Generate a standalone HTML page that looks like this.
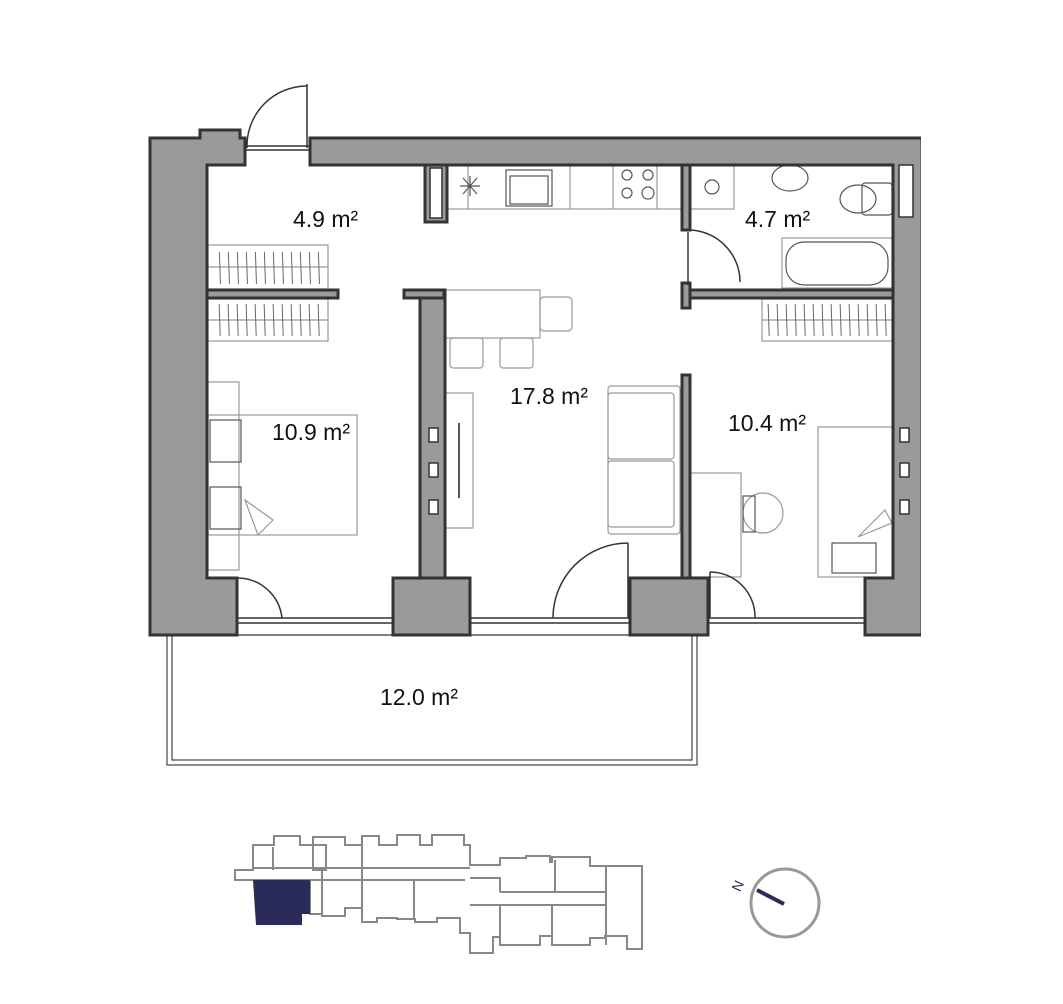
<!DOCTYPE html>
<html><head><meta charset="utf-8"><style>
html,body{margin:0;padding:0;background:#fff;width:1063px;height:1004px;overflow:hidden}
text{font-family:"Liberation Sans",sans-serif;fill:#111}
</style></head><body>
<svg width="1063" height="1004" viewBox="0 0 1063 1004" xmlns="http://www.w3.org/2000/svg">
<defs>
<pattern id="hang" x="0" y="0" width="9" height="60" patternUnits="userSpaceOnUse">
<line x1="3" y1="0" x2="5" y2="60" stroke="#666" stroke-width="1"/>
</pattern>
</defs>
<g fill="none" stroke="#999" stroke-width="1.2">
<!-- balcony -->
<rect x="167" y="635" width="530" height="130" stroke="#444"/>
<rect x="172" y="635" width="520" height="125" stroke="#444"/>
<!-- wardrobes -->
<rect x="208" y="245" width="120" height="44"/><line x1="208" y1="267" x2="328" y2="267"/>
<rect x="212" y="252" width="112" height="32" fill="url(#hang)" stroke="none"/>
<rect x="208" y="299" width="120" height="42"/><line x1="208" y1="320" x2="328" y2="320"/>
<rect x="212" y="304" width="112" height="32" fill="url(#hang)" stroke="none"/>
<rect x="762" y="299" width="130" height="42"/><line x1="762" y1="320" x2="892" y2="320"/>
<rect x="766" y="304" width="122" height="32" fill="url(#hang)" stroke="none"/>
<!-- kitchen -->
<rect x="447" y="165" width="235" height="44"/>
<line x1="468" y1="165" x2="468" y2="209"/><line x1="570" y1="165" x2="570" y2="209"/><line x1="613" y1="165" x2="613" y2="209"/><line x1="657" y1="165" x2="657" y2="209"/>
<rect x="506" y="170" width="46" height="36" stroke="#555"/><rect x="510" y="176" width="38" height="28" stroke="#555"/>
<circle cx="627" cy="175" r="5" stroke="#555"/><circle cx="648" cy="175" r="5" stroke="#555"/><circle cx="627" cy="193" r="5" stroke="#555"/><circle cx="648" cy="193" r="6" stroke="#555"/>
<path d="M463 178 L477 194 M477 178 L463 194 M470 176 V196 M460 186 H480" stroke="#555"/>
<!-- dining -->
<rect x="445" y="290" width="95" height="48"/><rect x="540" y="297" width="32" height="34" rx="4"/>
<rect x="450" y="338" width="33" height="30" rx="3"/><rect x="500" y="338" width="33" height="30" rx="3"/>
<!-- TV -->
<rect x="445" y="393" width="28" height="135"/>
<line x1="459" y1="423" x2="459" y2="498" stroke="#555" stroke-width="2"/>
<!-- sofa -->
<rect x="608" y="386" width="72" height="148" rx="3"/>
<rect x="608" y="393" width="66" height="66" rx="3"/><rect x="608" y="461" width="66" height="66" rx="3"/>
<!-- bedroom left -->
<rect x="208" y="382" width="31" height="188"/><rect x="208" y="415" width="149" height="120"/>
<rect x="210" y="420" width="31" height="42" stroke="#555"/><rect x="210" y="487" width="31" height="42" stroke="#555"/>
<path d="M245 500 L273 520 L258 535 Z"/>
<!-- bedroom right -->
<rect x="690" y="473" width="51" height="104"/><rect x="818" y="427" width="75" height="150"/>
<rect x="832" y="543" width="44" height="30" stroke="#555"/><path d="M858 537 L885 510 L892 523 Z"/>
<circle cx="763" cy="513" r="20"/><rect x="743" y="496" width="12" height="36" stroke="#555"/>
<!-- bath -->
<rect x="690" y="165" width="44" height="44"/><circle cx="712" cy="187" r="7" stroke="#555"/>
<ellipse cx="790" cy="178" rx="18" ry="13" stroke="#555"/>
<rect x="862" y="183" width="30" height="32" rx="3" stroke="#555"/><ellipse cx="858" cy="199" rx="18" ry="14" stroke="#555"/>
<rect x="782" y="238" width="110" height="50"/><rect x="786" y="242" width="102" height="43" rx="18" stroke="#555"/>
</g>
<!-- walls -->
<g fill="#9a9a9a" stroke="#333" stroke-width="3">
<path d="M150 138 H200 V130 H240 V138 H245 V165 H207 V578 H237 V635 H150 Z"/>
<path d="M310 138 H922 V635 H865 V578 H893 V165 H310 Z"/>
<rect x="425" y="165" width="22" height="57"/>
<rect x="420" y="290" width="25" height="288"/>
<rect x="404" y="290" width="40" height="8"/>
<rect x="393" y="578" width="77" height="57"/>
<rect x="630" y="578" width="78" height="57"/>
<rect x="682" y="375" width="8" height="203"/>
<rect x="207" y="290" width="131" height="8"/>
<rect x="682" y="165" width="8" height="65"/>
<rect x="682" y="290" width="211" height="8"/>
<rect x="682" y="283" width="8" height="25"/>
</g>
<rect x="921" y="130" width="20" height="520" fill="#fff"/>
<g fill="#fff" stroke="#333" stroke-width="1.5">
<rect x="430" y="168" width="12" height="50"/>
<rect x="899" y="165" width="14" height="52"/>
<rect x="429" y="428" width="9" height="14"/><rect x="429" y="463" width="9" height="14"/><rect x="429" y="500" width="9" height="14"/>
<rect x="900" y="428" width="9" height="14"/><rect x="900" y="463" width="9" height="14"/><rect x="900" y="500" width="9" height="14"/>
</g>
<!-- windows and doors -->
<g fill="none" stroke="#333" stroke-width="1.5">
<line x1="237" y1="618" x2="393" y2="618"/><line x1="237" y1="623" x2="393" y2="623"/>
<line x1="470" y1="618" x2="630" y2="618"/><line x1="470" y1="623" x2="630" y2="623"/>
<line x1="708" y1="618" x2="865" y2="618"/><line x1="708" y1="623" x2="865" y2="623"/>
<line x1="245" y1="146" x2="310" y2="146"/><line x1="245" y1="150" x2="310" y2="150"/>
<line x1="307" y1="84" x2="307" y2="148"/><path d="M247 148 A60 60 0 0 1 307 86"/>
<line x1="628" y1="543" x2="628" y2="618"/><path d="M553 618 A75 75 0 0 1 628 543"/>
<line x1="237" y1="578" x2="237" y2="618"/><path d="M237 578 A45 45 0 0 1 282 618"/>
<line x1="710" y1="572" x2="710" y2="618"/><path d="M710 572 A45 45 0 0 1 755 618"/>
<line x1="688" y1="232" x2="688" y2="285"/><path d="M690 230 A52 52 0 0 1 740 282"/>
</g>
<!-- labels -->
<g font-size="23">
<text x="293" y="227">4.9 m²</text>
<text x="745" y="227">4.7 m²</text>
<text x="510" y="404">17.8 m²</text>
<text x="272" y="440">10.9 m²</text>
<text x="728" y="431">10.4 m²</text>
<text x="380" y="705">12.0 m²</text>
</g>
<!-- key plan -->
<g fill="none" stroke="#888" stroke-width="2">
<path d="M235 870 H253 V845 H274 V836 H300 V845 H326 V870 H313 V837 H345 V845 H362 V836 H379 V845 H397 V835 H420 V845 H432 V835 H464 V845 H470 V865 H500 V858 H526 V856 H550 V862 H552 V857 H590 V866 H642 V949 H627 V936 H605 V938 H590 V945 H552 V936 H540 V945 H500 V937 H493 V953 H470 V933 H460 V918 H437 V922 H415 V919 H397 V918 H377 V922 H362 V908 H345 V916 H322 V914 H310 V880 H235 Z"/>
<path d="M273 870 V847 M253 868 H470 M310 880 H465 M362 870 V920 M414 880 V919 M322 870 V915 M470 878 H500 V892 M500 892 H555 V860 M555 892 H606 M470 905 H607 M500 905 V937 M552 905 V945 M606 866 V945 M362 845 V870"/>
</g>
<path d="M253 880 H310 V914 H302 V925 H256 Z" fill="#2b2b5a"/>
<circle cx="785" cy="903" r="34" fill="none" stroke="#999" stroke-width="3"/>
<line x1="757" y1="890" x2="784" y2="904" stroke="#2b2b5a" stroke-width="4"/>
<text x="732" y="890" font-size="14" transform="rotate(-65 738 885)" style="fill:#2b2b5a">N</text>
</svg>
</body></html>
